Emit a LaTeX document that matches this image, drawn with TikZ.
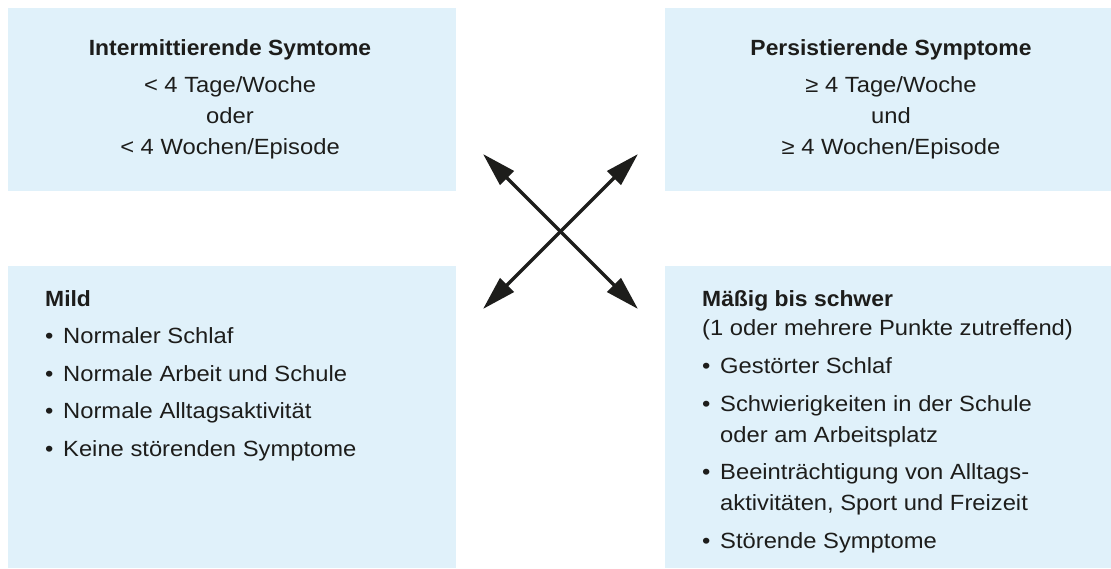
\documentclass[tikz,border=0pt]{standalone}
\usepackage{fontspec}
\setmainfont[FakeStretch=1.08,BoldFeatures={FakeStretch=1.04}]{Liberation Sans}
\usetikzlibrary{arrows.meta}
\definecolor{boxfill}{RGB}{224,241,250}
\definecolor{ink}{RGB}{29,29,27}
\tikzset{
  panel/.style={fill=boxfill, draw=none, inner sep=0pt, anchor=north west},
  txt/.style={inner sep=0pt, text=ink, font=\fontsize{22pt}{26pt}\selectfont},
  ctxt/.style={txt, anchor=base},
  ltxt/.style={txt, anchor=base west},
  arr/.style={{Triangle[length=34pt,width=19pt]}-{Triangle[length=34pt,width=19pt]}, line width=3.5pt, draw=ink, fill=ink},
}
\newcommand{\bul}{\makebox[18pt][l]{•}}
\begin{document}
\begin{tikzpicture}[x=1pt,y=-1pt]
\useasboundingbox (0,0) rectangle (1111,568);
% panels
\node[panel, minimum width=448pt, minimum height=183pt] (tl) at (8,8) {};
\node[panel, minimum width=446pt, minimum height=183pt] (tr) at (665,8) {};
\node[panel, minimum width=448pt, minimum height=302pt] (bl) at (8,266) {};
\node[panel, minimum width=446pt, minimum height=302pt] (br) at (665,266) {};
% top left
\node[ctxt] (tl1) at (230,55) {\bfseries Intermittierende Symtome};
\node[ctxt] (tl2) at (230,92) {< 4 Tage/Woche};
\node[ctxt] (tl3) at (230,123) {oder};
\node[ctxt] (tl4) at (230,154) {< 4 Wochen/Episode};
% top right
\node[ctxt] (tr1) at (891,55) {\bfseries Persistierende Symptome};
\node[ctxt] (tr2) at (891,92) {≥ 4 Tage/Woche};
\node[ctxt] (tr3) at (891,123) {und};
\node[ctxt] (tr4) at (891,154) {≥ 4 Wochen/Episode};
% bottom left
\node[ltxt] (bl1) at (45,306) {\bfseries Mild};
\node[ltxt] (bl2) at (45,343) {\bul Normaler Schlaf};
\node[ltxt] (bl3) at (45,381) {\bul Normale Arbeit und Schule};
\node[ltxt] (bl4) at (45,418) {\bul Normale Alltagsaktivität};
\node[ltxt] (bl5) at (45,456) {\bul Keine störenden Symptome};
% bottom right
\node[ltxt] (br1) at (702,306) {\bfseries Mäßig bis schwer};
\node[ltxt] (br2) at (702,335) {(1 oder mehrere Punkte zutreffend)};
\node[ltxt] (br3) at (702,373) {\bul Gestörter Schlaf};
\node[ltxt] (br4) at (702,411) {\bul Schwierigkeiten in der Schule};
\node[ltxt] (br5) at (720,442) {oder am Arbeitsplatz};
\node[ltxt] (br6) at (702,479) {\bul Beeinträchtigung von Alltags-};
\node[ltxt] (br7) at (720,510) {aktivitäten, Sport und Freizeit};
\node[ltxt] (br8) at (702,548) {\bul Störende Symptome};
% arrows
\coordinate (a1) at (483,154);
\coordinate (a2) at (638,309);
\coordinate (a3) at (638,154);
\coordinate (a4) at (483,309);
\draw[arr] (a1) -- (a2);
\draw[arr] (a3) -- (a4);
\end{tikzpicture}
\end{document}
